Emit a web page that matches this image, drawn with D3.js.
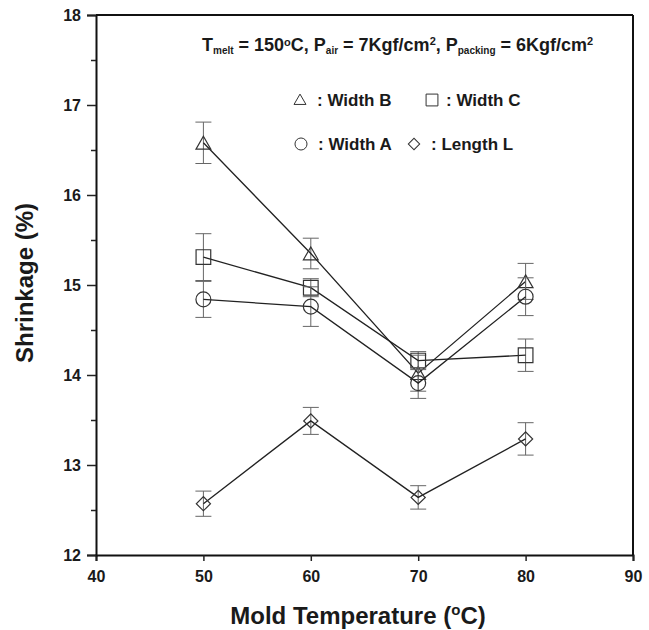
<!DOCTYPE html>
<html>
<head>
<meta charset="utf-8">
<script src="https://cdn.jsdelivr.net/npm/d3@7"></script>
<style>
  body { margin: 0; background: #fff; }
  text { font-family: "Liberation Sans", Arial, sans-serif; fill: #1a1a1a; }
</style>
</head>
<body>
<div id="chart"></div>
<script>
// data
var temps = [50, 60, 70, 80];
var widthB = [16.58, 15.35, 14.02, 15.04];
var widthBErr = [0.23, 0.17, 0.2, 0.2];
var widthC = [15.31, 14.97, 14.16, 14.22];
var widthCErr = [0.26, 0.1, 0.1, 0.18];
var widthA = [14.84, 14.76, 13.91, 14.87];
var widthAErr = [0.2, 0.22, 0.17, 0.21];
var lengthL = [12.57, 13.49, 12.64, 13.29];
var lengthLErr = [0.14, 0.15, 0.13, 0.18];

var xTicks = [40, 50, 60, 70, 80, 90];
var yTicks = [12, 13, 14, 15, 16, 17, 18];

var series = [
  { name: "Width B", vals: widthB, err: widthBErr, shape: "triangle" },
  { name: "Width C", vals: widthC, err: widthCErr, shape: "square" },
  { name: "Width A", vals: widthA, err: widthAErr, shape: "circle" },
  { name: "Length L", vals: lengthL, err: lengthLErr, shape: "diamond" }
];

var width = 649, height = 630;
var margin = { left: 96, right: 16, top: 15, bottom: 75 };

var svg = d3.select("#chart").append("svg")
  .attr("width", width)
  .attr("height", height);

var x = d3.scaleLinear().domain([40, 90]).range([margin.left, width - margin.right]);
var y = d3.scaleLinear().domain([12, 18]).range([height - margin.bottom, margin.top]);

// axes
svg.append("g")
  .attr("transform", "translate(0," + y(12) + ")")
  .call(d3.axisBottom(x).tickValues(xTicks).tickSize(6).tickPadding(10).tickFormat(d3.format("d")));
svg.append("g")
  .attr("transform", "translate(" + x(40) + ",0)")
  .call(d3.axisLeft(y).tickValues(yTicks).tickSize(9).tickPadding(6).tickFormat(d3.format("d")));
// minor y ticks
svg.append("g")
  .attr("transform", "translate(" + x(40) + ",0)")
  .call(d3.axisLeft(y).tickValues(d3.range(12.5, 18, 1)).tickSize(5).tickFormat(""))
  .select(".domain").remove();

svg.selectAll(".tick line").attr("stroke", "#222").attr("stroke-width", 1.5);
svg.selectAll(".domain").attr("stroke", "#111").attr("stroke-width", 2);
svg.selectAll(".tick text")
  .style("font-size", "16px")
  .style("font-weight", "bold")
  .attr("fill", "#2a2a2a");

// frame top and right
svg.append("line").attr("x1", x(40)).attr("x2", x(90)).attr("y1", y(18)).attr("y2", y(18))
  .attr("stroke", "#111").attr("stroke-width", 2);
svg.append("line").attr("x1", x(90)).attr("x2", x(90)).attr("y1", y(18)).attr("y2", y(12))
  .attr("stroke", "#111").attr("stroke-width", 2);

// axis titles
svg.append("text")
  .attr("transform", "translate(33," + 283 + ") rotate(-90)")
  .attr("text-anchor", "middle")
  .style("font-size", "24px").style("font-weight", "bold")
  .text("Shrinkage (%)");

var xl = svg.append("text")
  .attr("x", 358)
  .attr("y", 624)
  .attr("text-anchor", "middle")
  .style("font-size", "24px").style("font-weight", "bold");
xl.append("tspan").text("Mold Temperature (");
xl.append("tspan").attr("dy", -9).style("font-size", "15px").text("o");
xl.append("tspan").attr("dy", 9).text("C)");

// condition label
var t = svg.append("text")
  .attr("x", 202).attr("y", 51)
  .style("font-size", "18px").style("font-weight", "bold");
t.append("tspan").text("T");
t.append("tspan").attr("dy", 3).style("font-size", "10px").text("melt");
t.append("tspan").attr("dy", -3).text(" = 150");
t.append("tspan").attr("dy", -5).style("font-size", "11px").text("o");
t.append("tspan").attr("dy", 5).text("C, P");
t.append("tspan").attr("dy", 3).style("font-size", "10px").text("air");
t.append("tspan").attr("dy", -3).text(" = 7Kgf/cm");
t.append("tspan").attr("dy", -6).style("font-size", "11px").text("2");
t.append("tspan").attr("dy", 6).text(", P");
t.append("tspan").attr("dy", 3).style("font-size", "10px").text("packing");
t.append("tspan").attr("dy", -3).text(" = 6Kgf/cm");
t.append("tspan").attr("dy", -6).style("font-size", "11px").text("2");

function symbolFor(shape, k) {
  k = k || 1;
  if (shape === "triangle") return d3.symbol().type(d3.symbolTriangle).size(95 * k)();
  if (shape === "square") return d3.symbol().type(d3.symbolSquare).size(215 * k)();
  if (shape === "circle") return d3.symbol().type(d3.symbolCircle).size(175 * k)();
  return d3.symbol().type(d3.symbolSquare).size(100 * k)();
}
function rotFor(shape) {
  return shape === "diamond" ? " rotate(45)" : "";
}

var line = d3.line()
  .x(function(d) { return x(d.t); })
  .y(function(d) { return y(d.v); });

var plot = svg.append("g");

series.forEach(function(s) {
  var pts = temps.map(function(t, i) { return { t: t, v: s.vals[i], e: s.err[i] }; });

  // error bars
  var eb = plot.append("g").attr("stroke", "#666").attr("stroke-width", 1);
  pts.forEach(function(p) {
    eb.append("line").attr("x1", x(p.t)).attr("x2", x(p.t)).attr("y1", y(p.v - p.e)).attr("y2", y(p.v + p.e));
    eb.append("line").attr("x1", x(p.t) - 8).attr("x2", x(p.t) + 8).attr("y1", y(p.v + p.e)).attr("y2", y(p.v + p.e));
    eb.append("line").attr("x1", x(p.t) - 8).attr("x2", x(p.t) + 8).attr("y1", y(p.v - p.e)).attr("y2", y(p.v - p.e));
  });

  plot.append("path")
    .datum(pts)
    .attr("d", line)
    .attr("fill", "none")
    .attr("stroke", "#222")
    .attr("stroke-width", 1.3);

  plot.selectAll(null)
    .data(pts)
    .enter()
    .append("path")
    .attr("d", symbolFor(s.shape))
    .attr("transform", function(d) {
      var dy = s.shape === "triangle" ? 2 : 0;
      return "translate(" + x(d.t) + "," + (y(d.v) + dy) + ")" + rotFor(s.shape);
    })
    .attr("fill", "none")
    .attr("stroke", "#333")
    .attr("stroke-width", 1.2);
});

// legend
var legendPos = [
  { name: "Width B", shape: "triangle", lx: 300, ly: 100 },
  { name: "Width C", shape: "square", lx: 432, ly: 100 },
  { name: "Width A", shape: "circle", lx: 301, ly: 144 },
  { name: "Length L", shape: "diamond", lx: 414, ly: 144 }
];
var legend = svg.append("g");
legendPos.forEach(function(l) {
  legend.append("path")
    .attr("d", symbolFor(l.shape, 0.65))
    .attr("transform", "translate(" + l.lx + "," + (l.ly + (l.shape === "triangle" ? 1 : 0)) + ")" + rotFor(l.shape))
    .attr("fill", "none")
    .attr("stroke", "#333")
    .attr("stroke-width", 1);
  legend.append("text")
    .attr("x", l.lx + (l.shape === "square" ? 14 : 17))
    .attr("y", l.ly + 6)
    .style("font-size", "17px").style("font-weight", "bold")
    .text(": " + l.name);
});
</script>
</body>
</html>
